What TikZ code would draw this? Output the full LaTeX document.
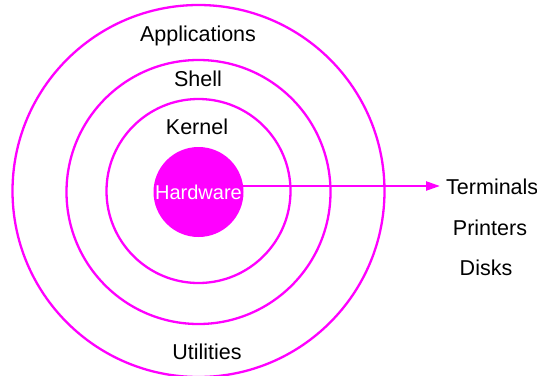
\documentclass[tikz,border=0pt]{standalone}
\usepackage{fontspec}
\setmainfont{Liberation Sans}
\usetikzlibrary{arrows.meta}
\definecolor{mag}{RGB}{255,0,255}
\begin{document}
\begin{tikzpicture}[x=1pt,y=-1pt,
  ring/.style={draw=mag,line width=2.3pt,circle,inner sep=0pt},
  lbl/.style={font=\fontsize{21.5}{25}\selectfont,inner sep=0pt,text=black}]
\useasboundingbox (0,0) rectangle (537,375);
\node[ring,minimum size=372pt] (outer) at (198.5,191) {};
\node[ring,minimum size=264pt] (middle) at (198.5,192) {};
\node[ring,minimum size=184pt] (inner) at (198.5,191) {};
\node[circle,fill=mag,minimum size=90pt,inner sep=0pt,text=white,font=\fontsize{20}{22}\selectfont] (hw) at (198.5,192) {Hardware};
\node[lbl] (app) at (198,36) {Applications};
\node[lbl] (shell) at (198,79) {Shell};
\node[lbl] (kernel) at (197,127) {Kernel};
\node[lbl] (util) at (207,352) {Utilities};
\node[lbl,anchor=west] (term) at (446,187) {Terminals};
\node[lbl] (print) at (490,228) {Printers};
\node[lbl] (disk) at (486,268) {Disks};
\coordinate (hwr) at (243,186);
\draw[mag,line width=2.3pt,-{Triangle[length=14pt,width=9pt]}] (hwr) -- ([xshift=-6pt]term.west |- hwr);
\end{tikzpicture}
\end{document}
